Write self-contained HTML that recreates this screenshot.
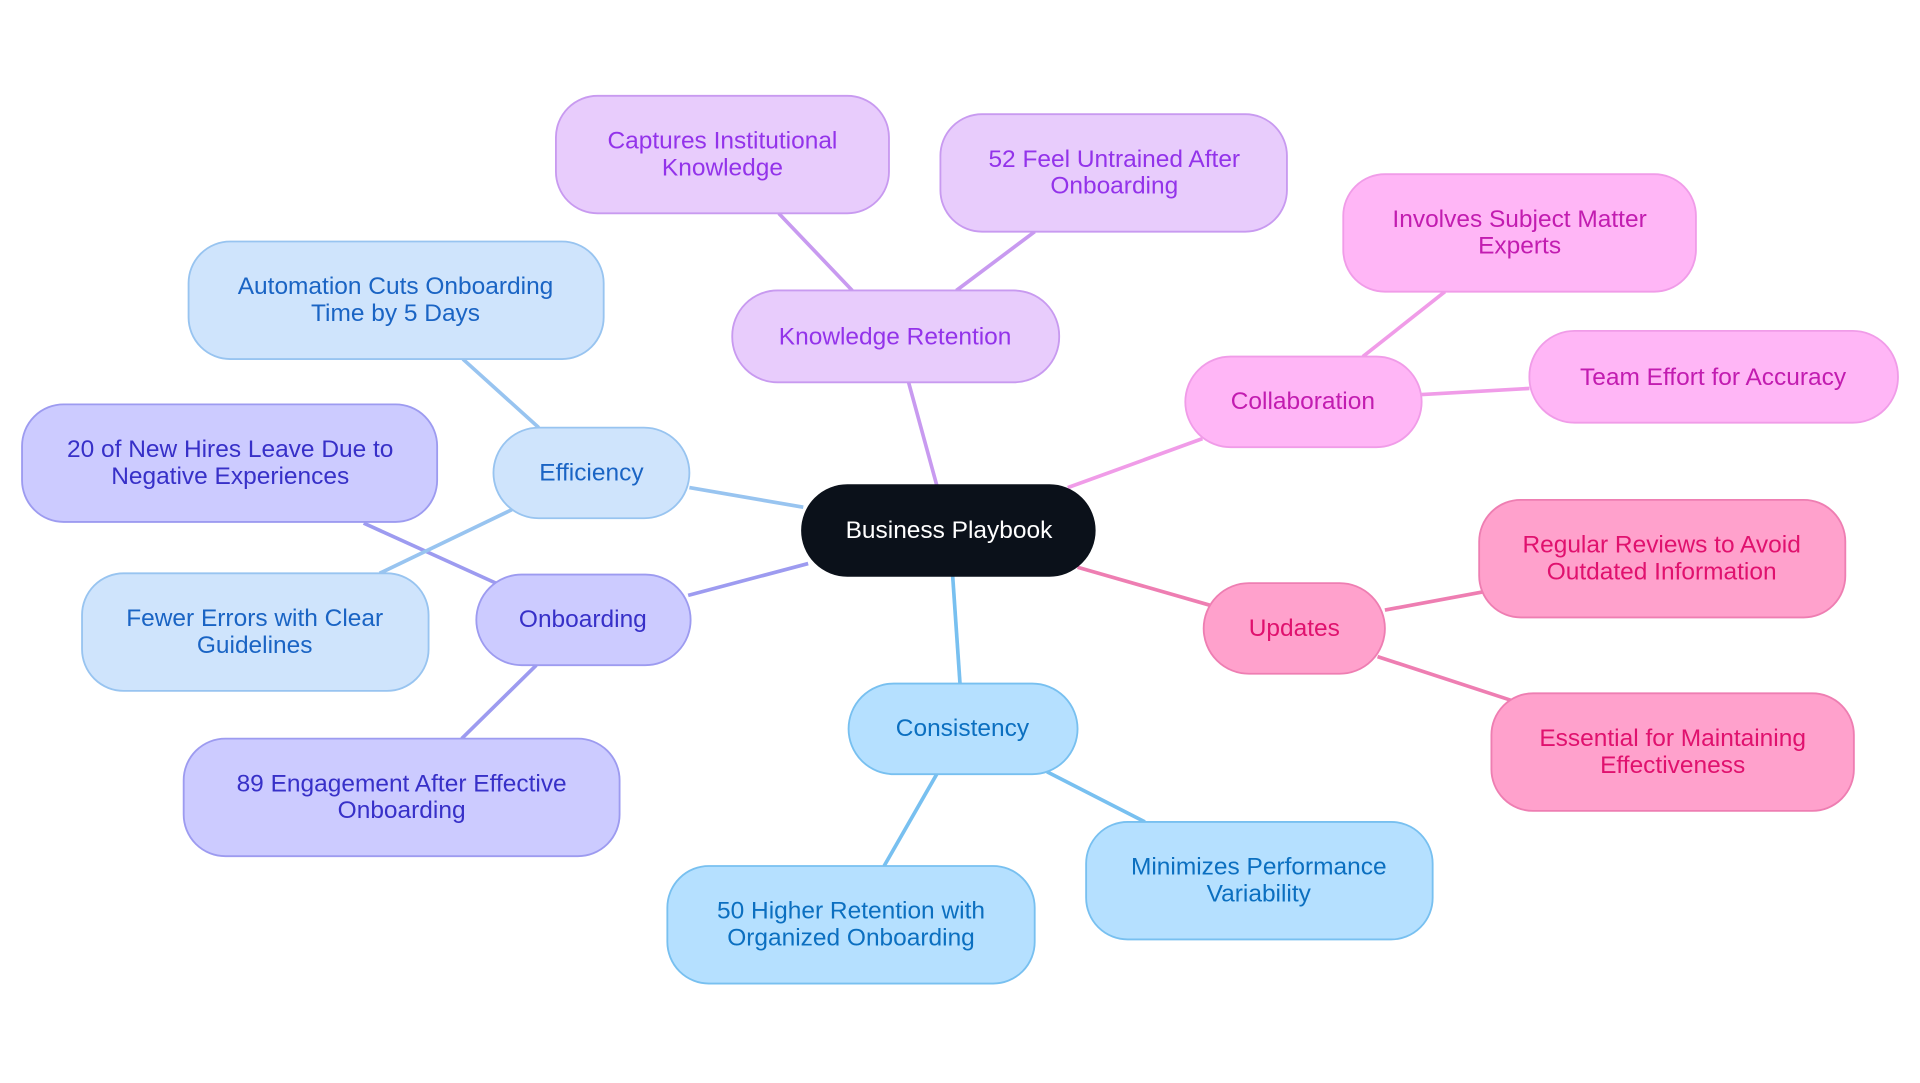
<!DOCTYPE html>
<html><head><meta charset="utf-8"><style>
html,body{margin:0;padding:0;background:#fff;}
svg{display:block;}
text{font-family:"Liberation Sans",sans-serif;font-size:20px;text-anchor:middle;}
</style></head><body>
<svg width="1920" height="1083" viewBox="0 0 1568 884" xmlns="http://www.w3.org/2000/svg">
<g stroke-width="3" fill="none">
<line x1="765" y1="396" x2="742" y2="312" stroke="#c89af0"/>
<line x1="696" y1="237" x2="636" y2="174" stroke="#c89af0"/>
<line x1="781" y1="237" x2="845" y2="189" stroke="#c89af0"/>
<line x1="872" y1="398" x2="982" y2="358" stroke="#f09ce8"/>
<line x1="1113" y1="291" x2="1180" y2="238" stroke="#f09ce8"/>
<line x1="1161" y1="322" x2="1249" y2="317" stroke="#f09ce8"/>
<line x1="880" y1="463" x2="988" y2="494" stroke="#ee7eb2"/>
<line x1="1131" y1="498" x2="1212" y2="483" stroke="#ee7eb2"/>
<line x1="1125" y1="536" x2="1235" y2="572" stroke="#ee7eb2"/>
<line x1="778" y1="470" x2="784" y2="558" stroke="#78c0f0"/>
<line x1="765" y1="632" x2="722" y2="707" stroke="#78c0f0"/>
<line x1="855" y1="630" x2="935" y2="671" stroke="#78c0f0"/>
<line x1="660" y1="460" x2="562" y2="486" stroke="#9d9bf0"/>
<line x1="405" y1="476" x2="297" y2="427" stroke="#9d9bf0"/>
<line x1="438" y1="543" x2="377" y2="603" stroke="#9d9bf0"/>
<line x1="656" y1="414" x2="563" y2="398" stroke="#98c4f0"/>
<line x1="440" y1="349" x2="378" y2="293" stroke="#98c4f0"/>
<line x1="418" y1="416" x2="310" y2="468" stroke="#98c4f0"/>
</g>
<g stroke-width="1.5">
<rect x="655" y="396" width="239" height="74" rx="37" fill="#0b111a" stroke="#0b111a"/>
<g fill="#e8ccfc" stroke="#c89af0">
<rect x="598" y="237" width="267" height="75" rx="37"/>
<rect x="454" y="78" width="272" height="96" rx="34"/>
<rect x="768" y="93" width="283" height="96" rx="34"/>
</g>
<g fill="#ffb6f6" stroke="#f09ce8">
<rect x="968" y="291" width="193" height="74" rx="37"/>
<rect x="1097" y="142" width="288" height="96" rx="34"/>
<rect x="1249" y="270" width="301" height="75" rx="37"/>
</g>
<g fill="#ffa1cc" stroke="#ee7eb2">
<rect x="983" y="476" width="148" height="74" rx="37"/>
<rect x="1208" y="408" width="299" height="96" rx="34"/>
<rect x="1218" y="566" width="296" height="96" rx="34"/>
</g>
<g fill="#b5e0ff" stroke="#78c0f0">
<rect x="693" y="558" width="187" height="74" rx="37"/>
<rect x="545" y="707" width="300" height="96" rx="34"/>
<rect x="887" y="671" width="283" height="96" rx="34"/>
</g>
<g fill="#cccbff" stroke="#9d9bf0">
<rect x="389" y="469" width="175" height="74" rx="37"/>
<rect x="18" y="330" width="339" height="96" rx="34"/>
<rect x="150" y="603" width="356" height="96" rx="34"/>
</g>
<g fill="#cfe4fc" stroke="#98c4f0">
<rect x="403" y="349" width="160" height="74" rx="37"/>
<rect x="154" y="197" width="339" height="96" rx="34"/>
<rect x="67" y="468" width="283" height="96" rx="34"/>
</g>
</g>
<text x="775" y="439" fill="#fff">Business Playbook</text>
<g fill="#9333ea">
<text x="731" y="281">Knowledge Retention</text>
<text x="590" y="121">Captures Institutional</text><text x="590" y="143">Knowledge</text>
<text x="910" y="136">52 Feel Untrained After</text><text x="910" y="158">Onboarding</text>
</g>
<g fill="#c21cb0">
<text x="1064" y="334">Collaboration</text>
<text x="1241" y="185">Involves Subject Matter</text><text x="1241" y="207">Experts</text>
<text x="1399" y="314">Team Effort for Accuracy</text>
</g>
<g fill="#e0116e">
<text x="1057" y="519">Updates</text>
<text x="1357" y="451">Regular Reviews to Avoid</text><text x="1357" y="473">Outdated Information</text>
<text x="1366" y="609">Essential for Maintaining</text><text x="1366" y="631">Effectiveness</text>
</g>
<g fill="#0b6fc0">
<text x="786" y="601">Consistency</text>
<text x="695" y="750">50 Higher Retention with</text><text x="695" y="772">Organized Onboarding</text>
<text x="1028" y="714">Minimizes Performance</text><text x="1028" y="736">Variability</text>
</g>
<g fill="#3730c8">
<text x="476" y="512">Onboarding</text>
<text x="188" y="373">20 of New Hires Leave Due to</text><text x="188" y="395">Negative Experiences</text>
<text x="328" y="646">89 Engagement After Effective</text><text x="328" y="668">Onboarding</text>
</g>
<g fill="#1a64c4">
<text x="483" y="392">Efficiency</text>
<text x="323" y="240">Automation Cuts Onboarding</text><text x="323" y="262">Time by 5 Days</text>
<text x="208" y="511">Fewer Errors with Clear</text><text x="208" y="533">Guidelines</text>
</g>
</svg>
</body></html>
